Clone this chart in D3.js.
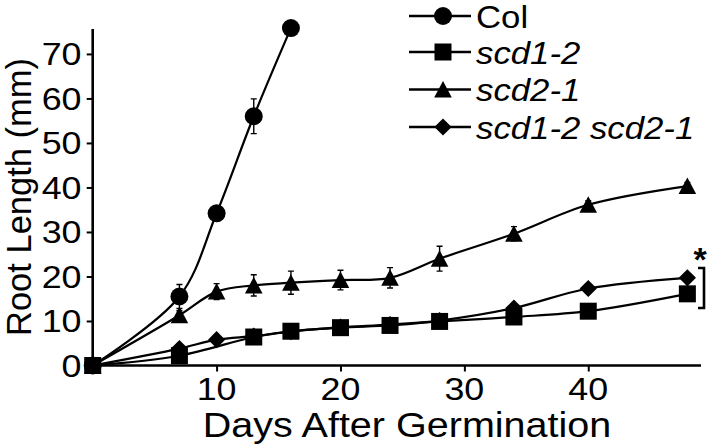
<!DOCTYPE html>
<html><head><meta charset="utf-8">
<script src="https://cdn.jsdelivr.net/npm/d3@7"></script>
<style>body{margin:0;background:#fff}svg{display:block}text{font-family:"Liberation Sans",Arial,sans-serif;fill:#000}</style>
</head><body><svg id="c" width="712" height="448"></svg>
<script>
// ---- data ----
const colDays = [0, 7, 10, 13, 16];
const colVals = [0, 15.5, 34.2, 56, 75.8];
const colErr  = [0, 2.7, 0.8, 3.9, 0.6];

const scd12Days = [0, 7, 13, 16, 20, 24, 28, 34, 40, 48];
const scd12Vals = [0, 2.2, 6.4, 7.7, 8.5, 9.0, 9.9, 10.9, 12.2, 16.1];
const scd12Err  = [0, 0.5, 0.8, 0.8, 0.8, 0.8, 0.8, 0.8, 0.6, 0.8];

const scd21Days = [0, 7, 10, 13, 16, 20, 24, 28, 34, 40, 48];
const scd21Vals = [0, 11.3, 16.6, 18.0, 18.6, 19.2, 19.7, 24.0, 29.6, 36.1, 40.3];
const scd21Err  = [0, 1.0, 1.8, 2.4, 2.6, 2.2, 2.3, 2.8, 1.6, 0.9, 0.8];

const dblDays = [0, 7, 10, 13, 16, 20, 24, 28, 34, 40, 48];
const dblVals = [0, 3.8, 5.8, 6.6, 7.6, 8.6, 9.2, 10.1, 12.9, 17.3, 19.7];
const dblErr  = [0, 0.5, 0.6, 0.6, 0.6, 0.6, 0.6, 0.6, 0.6, 0.6, 0.6];

const seriesNames = ["Col", "scd1-2", "scd2-1", "scd1-2 scd2-1"];
const xTicks = [10, 20, 30, 40];
const yTicks = [0, 10, 20, 30, 40, 50, 60, 70];
const xTitle = "Days After Germination";
const yTitle = "Root Length (mm)";

// ---- layout ----
const svg = d3.select("#c");
const x = d3.scaleLinear().domain([0, 49.1]).range([92.7, 701]);
const y = d3.scaleLinear().domain([0, 75.6]).range([365.5, 29]);

function stext(g, tx, ty, str, size, anchor, italic, sx) {
  const t = g.append("text")
    .attr("transform", `translate(${tx},${ty}) scale(${sx || 1.1},1)`)
    .attr("font-size", size)
    .attr("text-anchor", anchor || "start")
    .text(str);
  if (italic) t.attr("font-style", "italic");
  return t;
}

// marker shapes
const shapes = {
  circle: (g) => g.append("circle").attr("r", 9),
  square: (g) => g.append("rect").attr("x", -8.5).attr("y", -8.5).attr("width", 17).attr("height", 17),
  triangle: (g) => g.append("path").attr("d", "M0,-8.5L8.8,8L-8.8,8Z"),
  diamond: (g) => g.append("path").attr("d", "M0,-8.6L8.6,0L0,8.6L-8.6,0Z")
};

const series = [
  {name: seriesNames[0], days: colDays, vals: colVals, err: colErr, shape: "circle"},
  {name: seriesNames[2], days: scd21Days, vals: scd21Vals, err: scd21Err, shape: "triangle"},
  {name: seriesNames[3], days: dblDays, vals: dblVals, err: dblErr, shape: "diamond"},
  {name: seriesNames[1], days: scd12Days, vals: scd12Vals, err: scd12Err, shape: "square"}
];

// axes
const xAxis = svg.append("g").attr("transform", `translate(0,${y(0)})`)
  .call(d3.axisBottom(x).tickValues(xTicks).tickSize(6).tickFormat(""));
const yAxis = svg.append("g").attr("transform", `translate(${x(0)},0)`)
  .call(d3.axisLeft(y).tickValues(yTicks).tickSize(6).tickFormat(""));
[xAxis, yAxis].forEach(a => {
  a.select(".domain").attr("stroke", "#000").attr("stroke-width", 2.6);
  a.selectAll(".tick line").attr("stroke", "#000").attr("stroke-width", 2);
});
xAxis.select(".domain").attr("d", `M${x(0)},0H${x(49.1)}`);
yAxis.select(".domain").attr("d", `M0,${y(75.6)}V${y(0)}`);

const lab = svg.append("g");
xTicks.forEach(v => stext(lab, x(v), 400, String(v), 32, "middle", false, 1.12));
yTicks.forEach(v => stext(lab, 81.5, y(v) + 11.5, String(v), 32, "end", false, 1.12));
stext(lab, 407, 437, xTitle, 35, "middle", false, 1.13);
lab.append("text").attr("transform", `translate(31,197) rotate(-90)`)
  .attr("font-size", 34.5).attr("text-anchor", "middle").text(yTitle);

// lines, error bars, markers
const line = d3.line().curve(d3.curveCatmullRom.alpha(0.5));
series.forEach(s => {
  const pts = s.days.map((d, i) => [x(d), y(s.vals[i])]);
  svg.append("path").attr("d", line(pts)).attr("fill", "none")
    .attr("stroke", "#000").attr("stroke-width", 2.2);
});
series.forEach(s => {
  const g = svg.append("g");
  s.days.forEach((d, i) => {
    const e = s.err[i];
    if (e <= 0) return;
    const cx = x(d), y1 = y(s.vals[i] + e), y2 = y(s.vals[i] - e);
    g.append("path").attr("d", `M${cx},${y1}V${y2}M${cx-3},${y1}H${cx+3}M${cx-3},${y2}H${cx+3}`)
      .attr("stroke", "#000").attr("stroke-width", 1.4).attr("fill", "none");
  });
});
series.forEach(s => {
  s.days.forEach((d, i) => {
    const g = svg.append("g").attr("transform", `translate(${x(d)},${y(s.vals[i])})`);
    shapes[s.shape](g).attr("fill", "#000");
  });
});

// legend
const legendOrder = [
  {name: seriesNames[0], shape: "circle", italic: false},
  {name: seriesNames[1], shape: "square", italic: true},
  {name: seriesNames[2], shape: "triangle", italic: true},
  {name: seriesNames[3], shape: "diamond", italic: true}
];
const legY = [16, 52, 89.5, 127];
legendOrder.forEach((l, i) => {
  const g = svg.append("g").attr("transform", `translate(0,${legY[i]})`);
  g.append("line").attr("x1", 409).attr("x2", 471).attr("y1", 0).attr("y2", 0)
    .attr("stroke", "#000").attr("stroke-width", 2.4);
  const m = g.append("g").attr("transform", "translate(443,0)");
  shapes[l.shape](m).attr("fill", "#000");
  stext(g, 476, 11.5, l.name, 30.5, "start", l.italic, 1.14);
});

// significance marker
svg.append("text").attr("x", 700).attr("y", 271).attr("font-size", 34)
  .attr("font-weight", "bold").attr("text-anchor", "middle").text("*");
svg.append("path").attr("d", "M698,268H704V308H698").attr("fill", "none")
  .attr("stroke", "#000").attr("stroke-width", 2.6);
</script></body></html>
